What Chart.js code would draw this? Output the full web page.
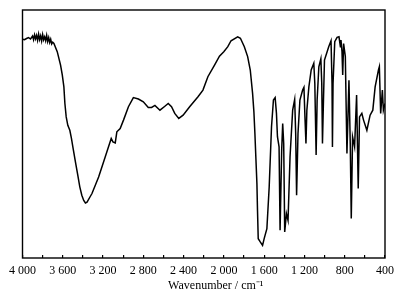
<!DOCTYPE html>
<html>
<head>
<meta charset="utf-8">
<script src="https://cdn.jsdelivr.net/npm/chart.js@4"></script>
<style>
  html, body { margin: 0; padding: 0; background: #fff; }
  #wrap { width: 404px; height: 299px; }
</style>
</head>
<body>
<div id="wrap"><canvas id="ir"></canvas></div>
<script>
// Spektrumdata, vågtal i cm^-1 och relativ transmittans
const wavenumbers = [
  4000, 3980, 3960, 3940, 3920, 3900, 3890, 3880, 3870, 3860, 3850, 3840, 3830, 3820, 3810,
  3800, 3790, 3780, 3770, 3760, 3750, 3740, 3730, 3720, 3710, 3700, 3688, 3655, 3622, 3605,
  3589, 3579, 3566, 3550, 3530, 3514, 3497, 3474, 3451, 3431, 3411, 3392, 3375, 3359, 3330,
  3310, 3244, 3178, 3119, 3102, 3079, 3063, 3030,
  2997, 2948, 2899, 2849, 2800, 2751, 2718, 2685, 2635, 2586, 2553, 2520, 2488, 2448, 2405,
  2340, 2257, 2208, 2159, 2093, 2044, 2001, 1961, 1929, 1863, 1836, 1797, 1764, 1738, 1715,
  1702, 1692, 1682, 1672, 1666, 1659, 1639, 1616, 1600, 1573, 1550, 1527, 1508, 1491, 1478, 1468, 1452, 1442,
  1426, 1416, 1406, 1396, 1379, 1363, 1343, 1317, 1297, 1287, 1278, 1264, 1245, 1218, 1205,
  1195, 1185, 1176, 1156, 1133, 1107, 1097, 1084, 1074, 1057, 1037, 1028, 1021, 1011, 1001,
  959, 936, 926, 922, 916, 899, 876, 857, 843, 837, 827, 820, 811, 794, 778,
  758, 745, 735, 722, 702, 682, 666, 653, 630, 613, 580, 548, 521, 498, 465,
  456, 443, 426, 416, 400
];
const transmittance = [
  88.2, 88.0, 88.5, 88.9, 88.3, 89.5, 88.0, 90.0, 88.4, 89.8, 87.8, 90.3, 88.1, 89.6, 87.5,
  90.1, 88.0, 89.2, 87.6, 89.8, 87.3, 88.9, 86.9, 88.2, 86.3, 87.0, 86.5, 83.2, 77.8, 73.8,
  69.0, 62.3, 56.9, 53.5, 51.5, 48.2, 44.1, 38.7, 33.4, 28.7, 25.3, 23.2, 22.2, 22.5, 24.6,
  26.0, 32.7, 40.8, 48.2, 46.8, 46.4, 50.9, 52.2,
  55.6, 61.0, 64.7, 64.1, 63.0, 60.7, 60.7, 61.5, 59.6, 61.2, 62.3, 61.0, 58.3, 56.3, 57.6,
  61.0, 65.0, 67.7, 73.1, 77.8, 81.4, 83.2, 85.2, 87.6, 89.2, 88.6, 85.2, 81.2, 75.8, 66.4,
  59.0, 50.2, 40.0, 30.0, 19.0, 7.8, 6.5, 5.1, 7.8, 11.8, 28.7, 52.9, 63.7, 64.7, 58.3, 48.9, 44.8, 11.2,
  43.5, 54.2, 46.2, 10.5, 17.9, 15.2, 40.8, 59.6, 63.9, 50.2, 25.3, 50.2, 63.7, 67.7, 68.8,
  56.9, 46.2, 59.6, 69.0, 75.8, 78.5, 70.4, 41.5, 63.7, 77.1, 80.3, 70.4, 46.2, 63.7, 79.8,
  85.2, 87.6, 70.4, 44.8, 70.4, 87.2, 89.0, 89.2, 85.2, 87.9, 83.2, 73.8, 86.5, 81.2, 42.1,
  71.7, 46.2, 15.9, 48.9, 44.8, 65.7, 28.0, 56.9, 58.3, 55.6, 51.5, 57.6, 59.6, 69.0, 75.8,
  77.1, 58.3, 67.7, 59.6, 62.3
];
const tickLabels = ['4 000', '3 600', '3 200', '2 800', '2 400', '2 000', '1 600', '1 200', '800', '400'];
const tickValues = [4000, 3600, 3200, 2800, 2400, 2000, 1600, 1200, 800, 400];
const axisTitle = 'Wavenumber / cm\u207B\u00B9';

const points = wavenumbers.map((w, i) => ({ x: w, y: transmittance[i] }));

// Ram runt diagramytan + axeltitel (lite höger om mitten som i originalet)
const frame = {
  id: 'frame',
  afterDraw(chart) {
    const { ctx, chartArea: a } = chart;
    ctx.save();
    ctx.strokeStyle = '#000';
    ctx.lineWidth = 1.4;
    ctx.strokeRect(a.left, a.top, a.right - a.left, a.bottom - a.top);
    ctx.fillStyle = '#000';
    ctx.font = '12px "Liberation Serif"';
    ctx.textAlign = 'center';
    ctx.textBaseline = 'middle';
    ctx.fillText(axisTitle, (a.left + a.right) / 2 + 12, 286);
    ctx.restore();
  }
};

new Chart(document.getElementById('ir'), {
  type: 'line',
  data: {
    datasets: [{
      data: points,
      borderColor: '#000',
      borderWidth: 1.5,
      pointRadius: 0,
      tension: 0,
      fill: false
    }]
  },
  options: {
    responsive: true,
    maintainAspectRatio: false,
    animation: false,
    events: [],
    layout: { padding: { left: 20, right: 19, top: 10, bottom: 0 } },
    plugins: { legend: { display: false }, tooltip: { enabled: false } },
    scales: {
      x: {
        type: 'linear',
        reverse: true,
        min: 400,
        max: 4000,
        afterBuildTicks(scale) {
          const t = [];
          for (let v = 4000; v >= 400; v -= 200) t.push({ value: v });
          scale.ticks = t;
        },
        afterFit(scale) { scale.height = 41; },
        grid: {
          drawOnChartArea: false,
          tickLength: -3,
          color: '#000',
          lineWidth: 1.2
        },
        border: { display: false },
        ticks: {
          autoSkip: false,
          maxRotation: 0,
          padding: 9,
          color: '#000',
          font: { family: 'Liberation Serif', size: 12 },
          callback(v) {
            const i = tickValues.indexOf(v);
            return i >= 0 ? tickLabels[i] : '';
          }
        }
      },
      y: {
        display: false,
        min: 0,
        max: 100
      }
    }
  },
  plugins: [frame]
});
</script>
</body>
</html>
